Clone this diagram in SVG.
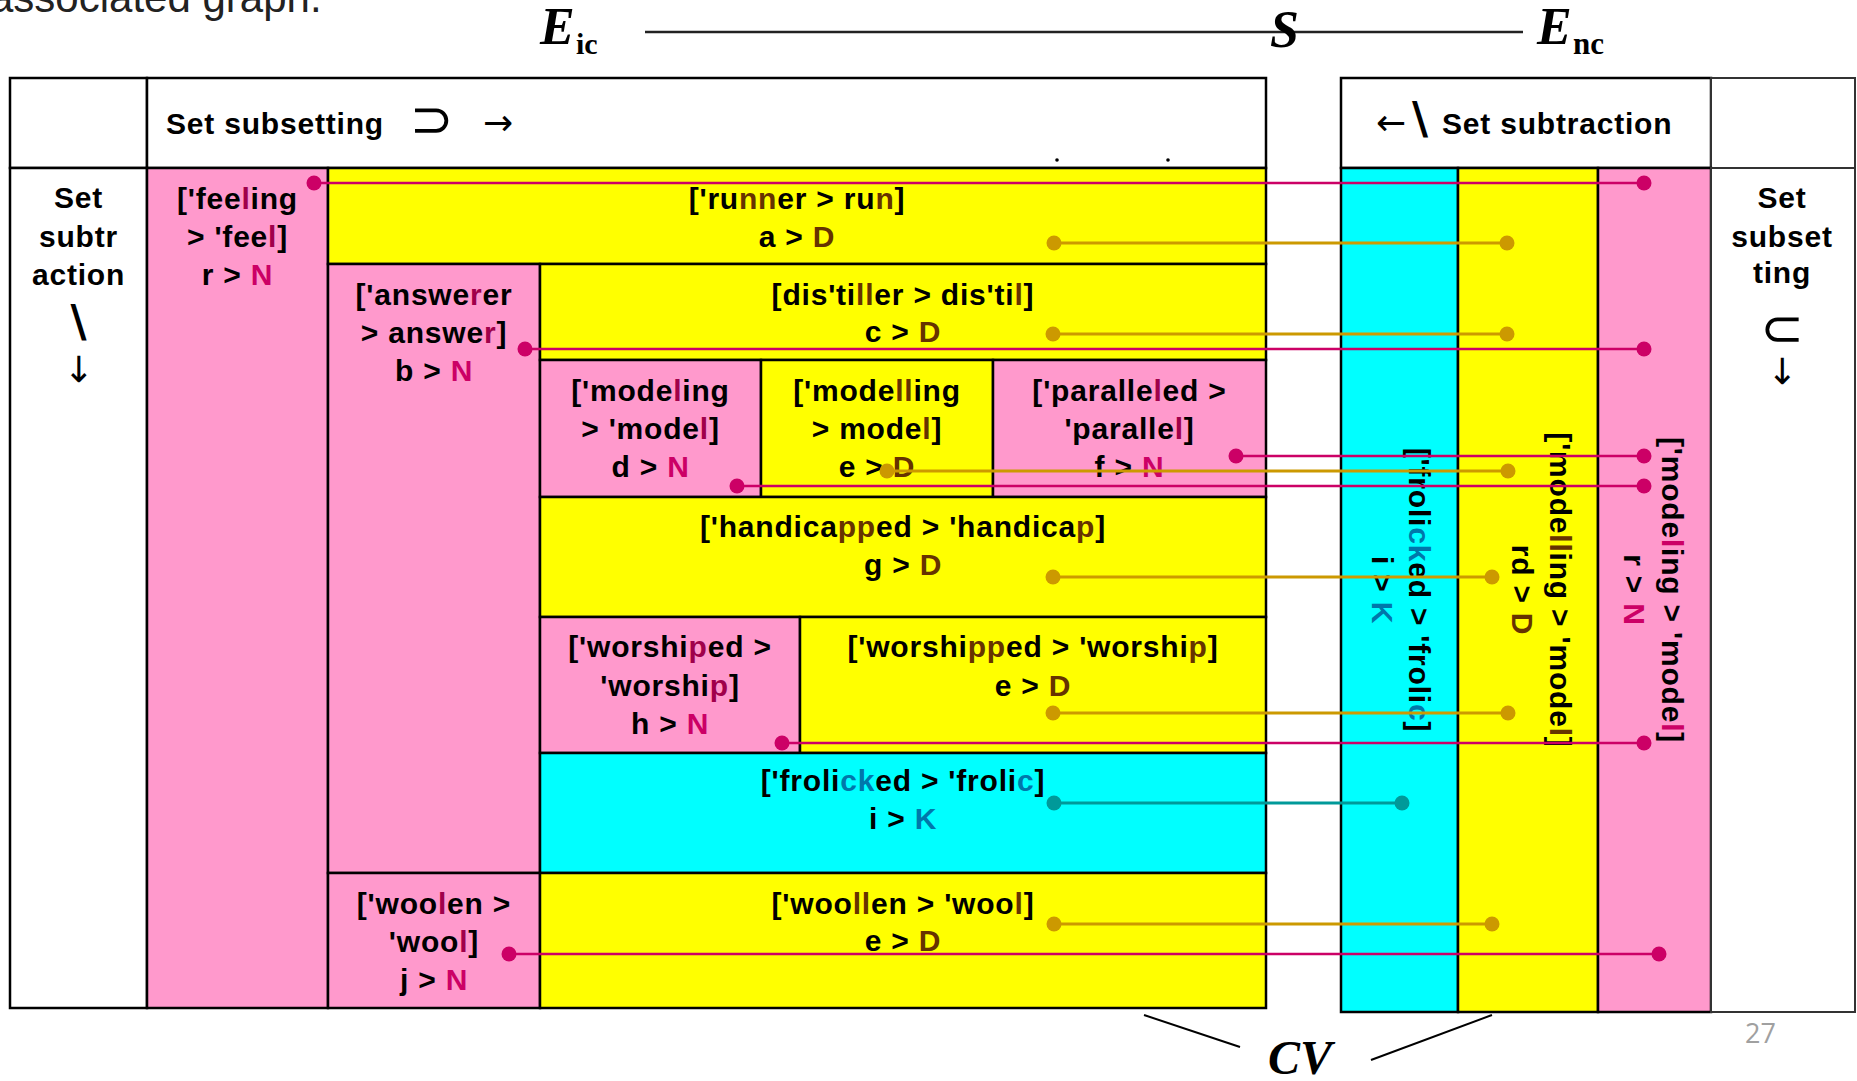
<svg xmlns="http://www.w3.org/2000/svg" width="1857" height="1081" viewBox="0 0 1857 1081">
<style>
.t{font-family:"Liberation Sans",Arial,sans-serif;font-weight:bold;font-size:30px;letter-spacing:0.8px;text-anchor:middle;fill:#000}
.ts{text-anchor:start}
.sym{font-family:"DejaVu Sans",sans-serif;font-size:36px;fill:#000}
.big{font-size:52px}
.bs{font-family:"DejaVu Sans",sans-serif;font-weight:bold;font-size:44px;fill:#000}
.bx{stroke:#000;stroke-width:2.5}
.pk{fill:#FF99CC}
.yl{fill:#FFFF00}
.cy{fill:#00FFFF}
.wh{fill:#FFFFFF}
.bn{fill:#663300}
.mr{fill:#A0004A}
.mg{fill:#CC0066}
.bl{fill:#0077AA}
.serif{font-family:"Liberation Serif","Times New Roman",serif;font-weight:bold;fill:#000}
.it{font-style:italic}
.lm{stroke:#CC0066;stroke-width:2.5;fill:none}
.lg{stroke:#CC9900;stroke-width:3;fill:none}
.lt{stroke:#009999;stroke-width:3;fill:none}
.dm{fill:#CC0066}
.dg{fill:#CC9900}
.dt{fill:#009999}
</style>
<rect x="0" y="0" width="1857" height="1081" fill="#FFFFFF"/>

<text x="-10" y="12" font-family="Liberation Sans, Arial, sans-serif" font-size="42" fill="#222">associated graph.</text>

<g id="title">
  <line x1="645" y1="32" x2="1523" y2="32" stroke="#222" stroke-width="2.5"/>
  <text class="serif it" x="540" y="44" font-size="52">E</text>
  <text class="serif" x="576" y="54" font-size="30">ic</text>
  <text class="serif it" x="1270" y="47" font-size="52">S</text>
  <text class="serif it" x="1537" y="44" font-size="52">E</text>
  <text class="serif" x="1573" y="54" font-size="31">nc</text>
</g>

<g id="left-table">
  <rect class="bx wh" x="10" y="78" width="137" height="90"/>
  <g id="hdr-subsetting">
    <rect class="bx wh" x="147" y="78" width="1119" height="90"/>
    <text class="t ts" x="166" y="134">Set subsetting</text>
    <text class="sym big" x="410" y="137">⊃</text>
    <text class="sym" x="483" y="135">→</text>
    <circle cx="1057" cy="160" r="1.8" fill="#000"/>
    <circle cx="1168" cy="160" r="1.8" fill="#000"/>
  </g>
  <g id="lbl-left">
    <rect class="bx wh" x="10" y="168" width="137" height="840"/>
    <text class="t" x="78.5" y="208">Set</text>
    <text class="t" x="78.5" y="247">subtr</text>
    <text class="t" x="78.5" y="285">action</text>
    <text class="bs" x="78.5" y="337" text-anchor="middle">\</text>
    <text class="sym" x="78.5" y="382" text-anchor="middle">↓</text>
  </g>
  <g id="n-feeling">
    <rect class="bx pk" x="147" y="168" width="181" height="840"/>
    <text class="t" x="237.5" y="209">['fee<tspan class="mr">l</tspan>ing</text>
    <text class="t" x="237.5" y="247">&gt; 'fee<tspan class="mr">l</tspan>]</text>
    <text class="t" x="237.5" y="285">r &gt; <tspan class="mg">N</tspan></text>
  </g>
  <g id="n-runner">
    <rect class="bx yl" x="328" y="168" width="938" height="96"/>
    <text class="t" x="797" y="209">['ru<tspan class="bn">nn</tspan>er &gt; ru<tspan class="bn">n</tspan>]</text>
    <text class="t" x="797" y="247">a &gt; <tspan class="bn">D</tspan></text>
  </g>
  <g id="n-answerer">
    <rect class="bx pk" x="328" y="264" width="212" height="609"/>
    <text class="t" x="434" y="305">['answe<tspan class="mr">r</tspan>er</text>
    <text class="t" x="434" y="343">&gt; answe<tspan class="mr">r</tspan>]</text>
    <text class="t" x="434" y="381">b &gt; <tspan class="mg">N</tspan></text>
  </g>
  <g id="n-distiller">
    <rect class="bx yl" x="540" y="264" width="726" height="96"/>
    <text class="t" x="903" y="305">[dis'ti<tspan class="bn">ll</tspan>er &gt; dis'ti<tspan class="bn">l</tspan>]</text>
    <text class="t" x="903" y="342">c &gt; <tspan class="bn">D</tspan></text>
  </g>
  <g id="n-modeling">
    <rect class="bx pk" x="540" y="360" width="221" height="137"/>
    <text class="t" x="650.5" y="401">['mode<tspan class="mr">l</tspan>ing</text>
    <text class="t" x="650.5" y="439">&gt; 'mode<tspan class="mr">l</tspan>]</text>
    <text class="t" x="650.5" y="477">d &gt; <tspan class="mg">N</tspan></text>
  </g>
  <g id="n-modelling">
    <rect class="bx yl" x="761" y="360" width="232" height="137"/>
    <text class="t" x="877" y="401">['mode<tspan class="bn">ll</tspan>ing</text>
    <text class="t" x="877" y="439">&gt; mode<tspan class="bn">l</tspan>]</text>
    <text class="t" x="877" y="477">e &gt; <tspan class="bn">D</tspan></text>
  </g>
  <g id="n-paralleled">
    <rect class="bx pk" x="993" y="360" width="273" height="137"/>
    <text class="t" x="1129.5" y="401">['paralle<tspan class="mr">l</tspan>ed &gt;</text>
    <text class="t" x="1129.5" y="439">'paralle<tspan class="mr">l</tspan>]</text>
    <text class="t" x="1129.5" y="477">f &gt; <tspan class="mg">N</tspan></text>
  </g>
  <g id="n-handicapped">
    <rect class="bx yl" x="540" y="497" width="726" height="120"/>
    <text class="t" x="903" y="537">['handica<tspan class="bn">pp</tspan>ed &gt; 'handica<tspan class="bn">p</tspan>]</text>
    <text class="t" x="903" y="575">g &gt; <tspan class="bn">D</tspan></text>
  </g>
  <g id="n-worshiped">
    <rect class="bx pk" x="540" y="617" width="260" height="136"/>
    <text class="t" x="670" y="657">['worshi<tspan class="mr">p</tspan>ed &gt;</text>
    <text class="t" x="670" y="696">'worshi<tspan class="mr">p</tspan>]</text>
    <text class="t" x="670" y="734">h &gt; <tspan class="mg">N</tspan></text>
  </g>
  <g id="n-worshipped">
    <rect class="bx yl" x="800" y="617" width="466" height="136"/>
    <text class="t" x="1033" y="657">['worshi<tspan class="bn">pp</tspan>ed &gt; 'worshi<tspan class="bn">p</tspan>]</text>
    <text class="t" x="1033" y="696">e &gt; <tspan class="bn">D</tspan></text>
  </g>
  <g id="n-frolicked">
    <rect class="bx cy" x="540" y="753" width="726" height="120"/>
    <text class="t" x="903" y="791">['froli<tspan class="bl">ck</tspan>ed &gt; 'froli<tspan class="bl">c</tspan>]</text>
    <text class="t" x="903" y="829">i &gt; <tspan class="bl">K</tspan></text>
  </g>
  <g id="n-woolen">
    <rect class="bx pk" x="328" y="873" width="212" height="135"/>
    <text class="t" x="434" y="914">['woo<tspan class="mr">l</tspan>en &gt;</text>
    <text class="t" x="434" y="952">'woo<tspan class="mr">l</tspan>]</text>
    <text class="t" x="434" y="990">j &gt; <tspan class="mg">N</tspan></text>
  </g>
  <g id="n-woollen">
    <rect class="bx yl" x="540" y="873" width="726" height="135"/>
    <text class="t" x="903" y="914">['woo<tspan class="bn">ll</tspan>en &gt; 'woo<tspan class="bn">l</tspan>]</text>
    <text class="t" x="903" y="951">e &gt; <tspan class="bn">D</tspan></text>
  </g>
</g>

<g id="right-table">
  <g id="hdr-subtraction">
    <rect class="bx wh" x="1341" y="78" width="370" height="90"/>
    <text class="sym" x="1376" y="135">←</text>
    <text class="bs" x="1412" y="134">\</text>
    <text class="t ts" x="1442" y="134">Set subtraction</text>
  </g>
  <rect x="1711" y="78" width="144" height="90" fill="#FFFFFF" stroke="#333" stroke-width="2"/>
  <g id="n-col-frolicked">
    <rect class="bx cy" x="1341" y="168" width="117" height="844"/>
    <g transform="translate(1409,590) rotate(90)">
      <text class="t" x="0" y="0">['froli<tspan class="bl">ck</tspan>ed &gt; 'froli<tspan class="bl">c</tspan>]</text>
      <text class="t" x="0" y="37">i &gt; <tspan class="bl">K</tspan></text>
    </g>
  </g>
  <g id="n-col-modelling">
    <rect class="bx yl" x="1458" y="168" width="140" height="844"/>
    <g transform="translate(1550,590) rotate(90)">
      <text class="t" x="0" y="0">['mode<tspan class="bn">ll</tspan>ing &gt; 'mode<tspan class="bn">l</tspan>]</text>
      <text class="t" x="0" y="38">rd &gt; <tspan class="bn">D</tspan></text>
    </g>
  </g>
  <g id="n-col-modeling">
    <rect class="bx pk" x="1598" y="168" width="113" height="844"/>
    <g transform="translate(1662,590) rotate(90)">
      <text class="t" x="0" y="0">['mode<tspan class="mg">l</tspan>ing &gt; 'mode<tspan class="mg">l</tspan>]</text>
      <text class="t" x="0" y="38">r &gt; <tspan class="mg">N</tspan></text>
    </g>
  </g>
  <g id="lbl-right">
    <rect x="1711" y="168" width="144" height="844" fill="#FFFFFF" stroke="#333" stroke-width="2"/>
    <text class="t" x="1782" y="208">Set</text>
    <text class="t" x="1782" y="247">subset</text>
    <text class="t" x="1782" y="283">ting</text>
    <text class="sym big" x="1782" y="346" text-anchor="middle">⊂</text>
    <text class="sym" x="1782" y="384" text-anchor="middle">↓</text>
  </g>
</g>

<g id="connectors">
  <line class="lm" x1="314" y1="183" x2="1644" y2="183"/>
  <line class="lg" x1="1054" y1="243" x2="1507" y2="243"/>
  <line class="lg" x1="1053" y1="334" x2="1507" y2="334"/>
  <line class="lm" x1="525" y1="349" x2="1644" y2="349"/>
  <line class="lm" x1="1236" y1="456" x2="1644" y2="456"/>
  <line class="lg" x1="887" y1="471" x2="1508" y2="471"/>
  <line class="lm" x1="737" y1="486" x2="1644" y2="486"/>
  <line class="lg" x1="1053" y1="577" x2="1492" y2="577"/>
  <line class="lg" x1="1053" y1="713" x2="1508" y2="713"/>
  <line class="lm" x1="782" y1="743" x2="1644" y2="743"/>
  <line class="lt" x1="1054" y1="803" x2="1402" y2="803"/>
  <line class="lg" x1="1054" y1="924" x2="1492" y2="924"/>
  <line class="lm" x1="509" y1="954" x2="1659" y2="954"/>
  <g>
    <circle class="dm" cx="314" cy="183" r="7.5"/><circle class="dm" cx="1644" cy="183" r="7.5"/>
    <circle class="dg" cx="1054" cy="243" r="7.5"/><circle class="dg" cx="1507" cy="243" r="7.5"/>
    <circle class="dg" cx="1053" cy="334" r="7.5"/><circle class="dg" cx="1507" cy="334" r="7.5"/>
    <circle class="dm" cx="525" cy="349" r="7.5"/><circle class="dm" cx="1644" cy="349" r="7.5"/>
    <circle class="dm" cx="1236" cy="456" r="7.5"/><circle class="dm" cx="1644" cy="456" r="7.5"/>
    <circle class="dg" cx="887" cy="471" r="7.5"/><circle class="dg" cx="1508" cy="471" r="7.5"/>
    <circle class="dm" cx="737" cy="486" r="7.5"/><circle class="dm" cx="1644" cy="486" r="7.5"/>
    <circle class="dg" cx="1053" cy="577" r="7.5"/><circle class="dg" cx="1492" cy="577" r="7.5"/>
    <circle class="dg" cx="1053" cy="713" r="7.5"/><circle class="dg" cx="1508" cy="713" r="7.5"/>
    <circle class="dm" cx="782" cy="743" r="7.5"/><circle class="dm" cx="1644" cy="743" r="7.5"/>
    <circle class="dt" cx="1054" cy="803" r="7.5"/><circle class="dt" cx="1402" cy="803" r="7.5"/>
    <circle class="dg" cx="1054" cy="924" r="7.5"/><circle class="dg" cx="1492" cy="924" r="7.5"/>
    <circle class="dm" cx="509" cy="954" r="7.5"/><circle class="dm" cx="1659" cy="954" r="7.5"/>
  </g>
</g>

<g id="cv-label">
  <line x1="1144" y1="1015" x2="1240" y2="1047" stroke="#000" stroke-width="2"/>
  <line x1="1371" y1="1060" x2="1492" y2="1015" stroke="#000" stroke-width="2"/>
  <text class="serif it" x="1268" y="1074" font-size="48">CV</text>
</g>

<text x="1745" y="1043" font-family="Open Sans, Liberation Sans, sans-serif" font-size="27" fill="#A0A0A0">27</text>
</svg>
